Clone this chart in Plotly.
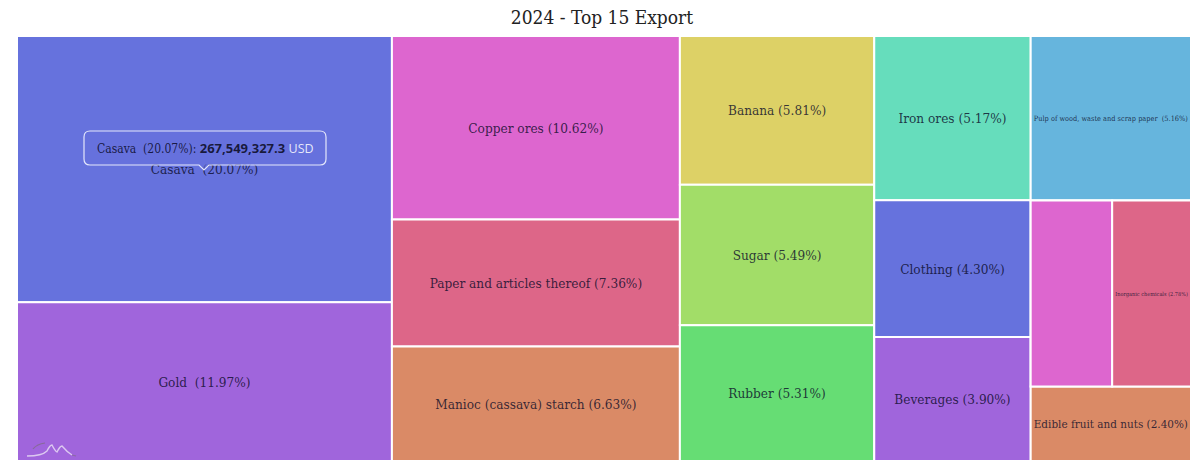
import plotly.graph_objects as go

title = "2024 - Top 15 Export"

# tiles in reading order, column by column
products = ["Casava ", "Gold ", "Copper ores", "Paper and articles thereof", "Manioc (cassava) starch",
            "Banana", "Sugar", "Rubber", "Iron ores", "Clothing", "Beverages",
            "Pulp of wood, waste and scrap paper ", "Unlabelled", "Inorganic chemicals", "Edible fruit and nuts"]
# the printed percentages
shares = [20.07, 11.97, 10.62, 7.36, 6.63, 5.81, 5.49, 5.31, 5.17, 4.30, 3.90, 5.16, 0, 2.78, 2.40]
# tile sizes as measured, the last column is a bit bigger than its printed percentages
sizes = [20.07, 11.97, 10.62, 7.36, 6.63, 5.81, 5.49, 5.31, 5.17, 4.30, 3.90, 5.30, 3.05, 2.95, 2.40]
groups = ["col1", "col1", "col2", "col2", "col2", "col3", "col3", "col3", "col4", "col4", "col4",
          "col5", "col5b", "col5b", "col5"]
colors = ["#6672dd", "#a065dc", "#dd66cf", "#dd6688", "#da8a66", "#ddd166", "#a2dd68", "#66dd74",
          "#66ddbc", "#6672dd", "#a065dc", "#66b5dd", "#dd66cf", "#dd6688", "#da8a66"]
tile_text = [f"{p} ({s:.2f}%)" if s else "" for p, s in zip(products, shares)]

# invisible parents only force the column layout, col5b is the pair in the middle of col5
top_ids = ["root", "col1", "col2", "col3", "col4", "col5"]
top_parents = ["", "root", "root", "root", "root", "root"]
split = products.index("Unlabelled")

ids = top_ids + products[:split] + ["col5b"] + products[split:]
parents = top_parents + groups[:split] + ["col5"] + groups[split:]
values = [0] * 6 + sizes[:split] + [0] + sizes[split:]
tile_colors = ["#ffffff"] * 6 + colors[:split] + ["#ffffff"] + colors[split:]
text = [""] * 6 + tile_text[:split] + [""] + tile_text[split:]

fig = go.Figure(go.Treemap(
    ids=ids,
    labels=ids,
    parents=parents,
    values=values,
    text=text,
    textinfo="text",
    hoverinfo="skip",
    sort=False,
    branchvalues="remainder",
    tiling=dict(packing="slice-dice", pad=0),
    pathbar=dict(visible=False),
    root=dict(color="#ffffff"),
    marker=dict(colors=tile_colors, pad=dict(t=0, l=0, r=0, b=0), line=dict(color="#ffffff", width=2)),
    textposition="middle center",
    textfont=dict(family="DejaVu Serif Condensed, serif", size=13.5, color="rgba(10,10,40,0.8)"),
))

# post_script below removes the body margin, so figure pixels are window pixels
FIG_W, FIG_H = 1200, 473
LEFT, RIGHT, TOP, BOTTOM = 17, 9, 36, 12


def px(x):
    return (x - LEFT) / (FIG_W - LEFT - RIGHT)


def py(y):
    return 1 - (y - TOP) / (FIG_H - TOP - BOTTOM)


def path(cmds):
    # each command is a letter followed by window pixel pairs
    parts = []
    for cmd in cmds:
        pts = cmd[1:]
        coords = " ".join(f"{px(pts[i]):.5f} {py(pts[i + 1]):.5f}" for i in range(0, len(pts), 2))
        parts.append(f"{cmd[0]} {coords}".strip())
    return " ".join(parts)


tooltip_box = [("M", 90, 131), ("L", 320, 131), ("Q", 326, 131, 326, 137), ("L", 326, 159),
               ("Q", 326, 165, 320, 165), ("L", 209, 165), ("L", 204, 170), ("L", 199, 165),
               ("L", 90, 165), ("Q", 84, 165, 84, 159), ("L", 84, 137), ("Q", 84, 131, 90, 131), ("Z",)]
logo_front = [("M", 27, 456), ("Q", 42, 456, 47, 451), ("Q", 50, 445, 52, 445), ("Q", 55, 451, 57, 452),
              ("Q", 60, 446, 62, 446), ("Q", 67, 452, 72, 455)]
logo_base = [("M", 72, 455), ("L", 76, 456)]
logo_back = [("M", 33, 449), ("Q", 37, 444, 45, 443)]

fig.update_layout(
    width=FIG_W,
    height=FIG_H,
    margin=dict(l=LEFT, r=RIGHT, t=TOP, b=BOTTOM, autoexpand=False),
    paper_bgcolor="#ffffff",
    title=dict(text=title, x=602 / FIG_W, xanchor="center", y=1 - 17 / FIG_H, yanchor="middle",
               font=dict(family="DejaVu Serif Condensed, serif", size=19, color="#222222")),
    shapes=[
        dict(type="path", xref="paper", yref="paper", path=path(tooltip_box),
             fillcolor="rgba(102,114,221,0.6)", line=dict(color="#e4e7fb", width=1.2)),
        dict(type="path", xref="paper", yref="paper", path=path(logo_front),
             line=dict(color="rgba(235,225,245,0.8)", width=1.4)),
        dict(type="path", xref="paper", yref="paper", path=path(logo_base),
             line=dict(color="rgba(120,110,110,0.5)", width=1.2)),
        dict(type="path", xref="paper", yref="paper", path=path(logo_back),
             line=dict(color="rgba(120,110,110,0.6)", width=1.2)),
    ],
    annotations=[
        dict(text=('Casava  (20.07%): <span style="font-family:Open Sans;font-size:13px;color:#0a0a1e">'
                   '<b>267,549,327.3</b></span>'
                   ' <span style="color:#ffffff;font-family:Open Sans;font-size:12.5px">USD</span>'),
             xref="paper", yref="paper", x=px(205), y=py(148), xanchor="center", yanchor="middle", showarrow=False,
             font=dict(family="DejaVu Serif Condensed, serif", size=12, color="rgba(10,10,40,0.85)")),
    ],
)

fig.write_html("out.html", config={"displayModeBar": False}, post_script="document.body.style.margin = '0';")
